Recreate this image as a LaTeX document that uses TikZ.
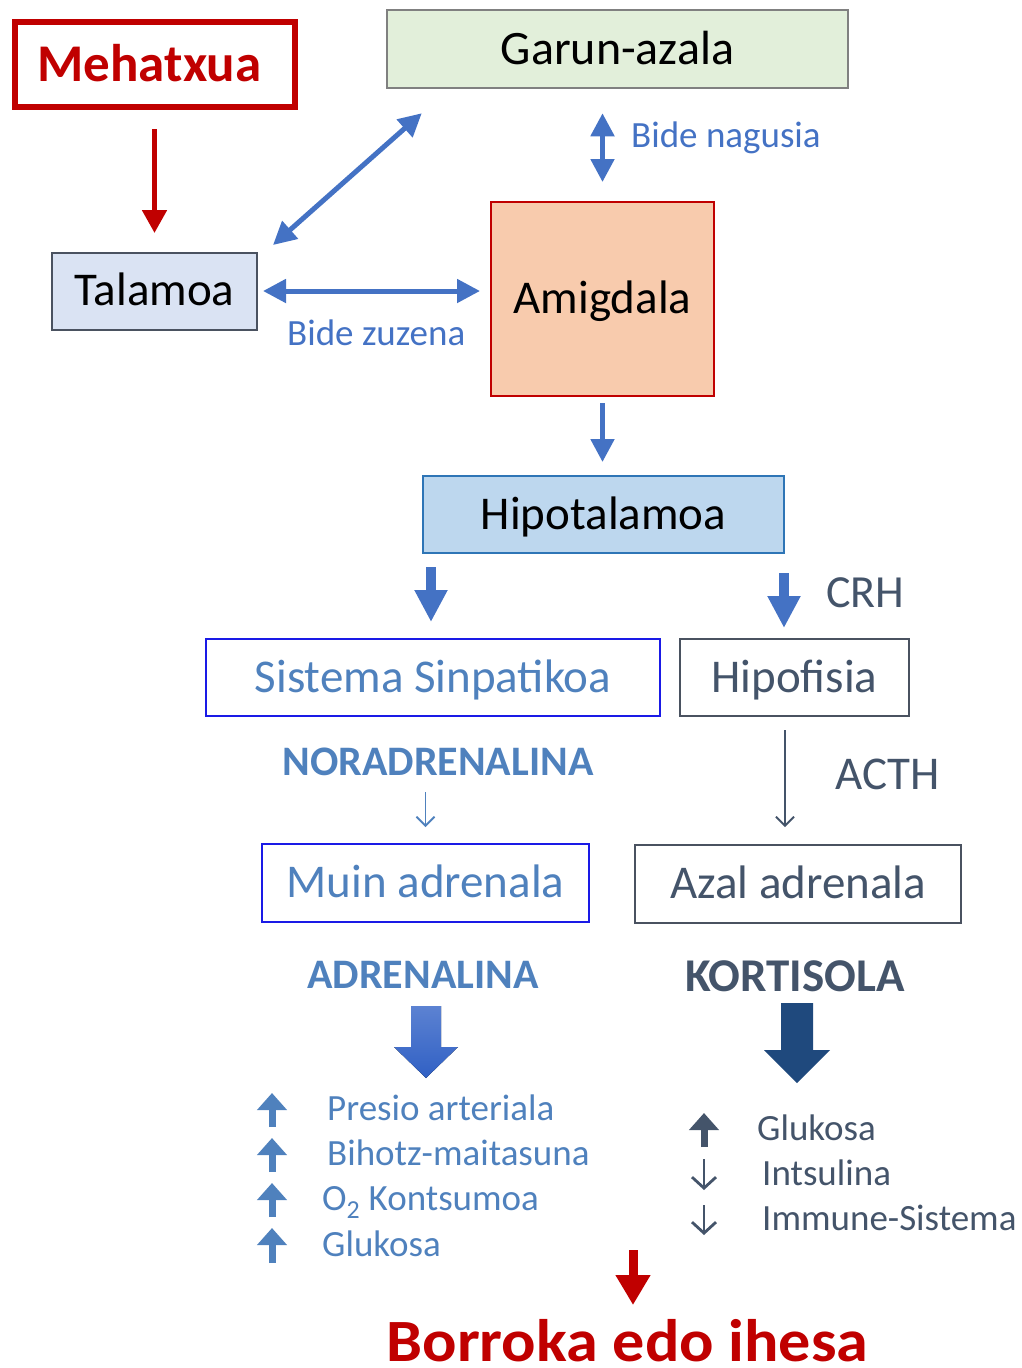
\documentclass[tikz,border=0pt]{standalone}
\usepackage{fontspec}
\setmainfont{Carlito}
\usetikzlibrary{arrows.meta,calc}
\newcommand\fsz[1]{\fontsize{#1pt}{#1pt}\selectfont}
\definecolor{cred}{HTML}{C00000}
\definecolor{cblue}{HTML}{4472C4}
\definecolor{steel}{HTML}{4F81BD}
\definecolor{slate}{HTML}{44546A}
\definecolor{kort}{HTML}{1F497D}
\definecolor{garfill}{HTML}{E2EFDA}
\definecolor{garline}{HTML}{808080}
\definecolor{talfill}{HTML}{DAE3F3}
\definecolor{talline}{HTML}{4A5260}
\definecolor{amfill}{HTML}{F8CBAD}
\definecolor{hipfill}{HTML}{BDD7EE}
\definecolor{hipline}{HTML}{2E75B6}
\definecolor{sisline}{HTML}{1A1AE6}
\definecolor{adrtop}{HTML}{5C82D2}
\definecolor{adrbot}{HTML}{3060C4}
\begin{document}
\begin{tikzpicture}[x=1pt,y=-1pt,
  box/.style={draw, inner sep=0pt, text height=29.7pt, text depth=0pt, font=\fsz{47}},
  lbl/.style={inner sep=0pt, anchor=base west, font=\fsz{37}},
  midarrow/.style={draw=cblue, line width=5pt, {Triangle[width=23pt,length=23pt]}-{Triangle[width=23pt,length=23pt]}},
  onearrow/.style={draw=cblue, line width=5pt, -{Triangle[width=23pt,length=23pt]}},
  fatarrow/.style={draw=cblue, line width=10pt, -{Triangle[width=31pt,length=32pt]}},
  thinarrow/.style={line width=1.8pt, -{Straight Barb[length=9pt,width=18pt]}},
  uparr/.style={line width=7pt, -{Triangle[width=29pt,length=17pt]}},
  downthin/.style={draw=slate, line width=2.8pt, -{Straight Barb[length=11pt,width=24pt]}}
]
\useasboundingbox (0,0) rectangle (1022,1368);

% boxes
\node[box, draw=cred, line width=6pt, minimum width=280pt, minimum height=85pt, text=cred, font=\fsz{53}\bfseries, text height=33.5pt] (meh) at (154.5,64.5) {Mehatxua\hspace*{10pt}};
\node[box, draw=garline, fill=garfill, line width=2.5pt, minimum width=461pt, minimum height=78pt, font=\fsz{48}, text height=30.3pt] (gar) at (617.5,49) {Garun-azala};
\node[box, draw=talline, fill=talfill, line width=2pt, minimum width=205pt, minimum height=77pt] (tal) at (154.5,291) {Talamoa};
\node[box, draw=cred, fill=amfill, line width=2pt, minimum width=223pt, minimum height=194pt] (amig) at (602.5,298.5) {Amigdala};
\node[box, draw=hipline, fill=hipfill, line width=2pt, minimum width=361pt, minimum height=77pt] (hipo) at (603.5,514.5) {Hipotalamoa};
\node[box, draw=sisline, line width=2pt, text=steel, minimum width=454pt, minimum height=77pt] (sis) at (433,677.5) {Sistema Sinpatikoa};
\node[box, draw=talline, line width=2pt, text=slate, minimum width=229pt, minimum height=77pt] (hpf) at (794.5,677.5) {Hipofisia};
\node[box, draw=sisline, line width=2pt, text=steel, minimum width=327pt, minimum height=78pt] (muin) at (425.5,883) {Muin adrenala};
\node[box, draw=talline, line width=2pt, text=slate, minimum width=326pt, minimum height=78pt] (azal) at (798,884) {Azal adrenala};

% labels
\node[lbl, text=cblue] (bn) at (631,147) {Bide nagusia};
\node[lbl, text=cblue] (bz) at (287,345) {Bide zuzena};
\node[lbl, text=slate, font=\fsz{46}] (crh) at (826,607) {CRH};
\node[lbl, text=slate, font=\fsz{47}] (acth) at (835,789) {ACTH};
\node[inner sep=0pt, anchor=base, text=steel, font=\fsz{42}\bfseries] (nora) at (438,775) {NORADRENALINA};
\node[inner sep=0pt, anchor=base, text=steel, font=\fsz{42}\bfseries] (adr) at (423,988) {ADRENALINA};
\node[inner sep=0pt, anchor=base, text=slate, font=\fsz{47}\bfseries] (kort) at (795,991) {KORTISOLA};
\node[inner sep=0pt, anchor=base, text=cred, font=\fsz{60}\bfseries, xscale=1.07] (bor) at (627.5,1361) {Borroka edo ihesa};

% lists
\node[lbl, text=steel] (l1) at (327,1120) {Presio arteriala};
\node[lbl, text=steel] (l2) at (327,1165) {Bihotz-maitasuna};
\node[lbl, text=steel] (l3) at (322,1210) {O\textsubscript{2} Kontsumoa};
\node[lbl, text=steel] (l4) at (322,1256) {Glukosa};
\node[lbl, text=slate] (r1) at (757,1140) {Glukosa};
\node[lbl, text=slate] (r2) at (762,1185) {Intsulina};
\node[lbl, text=slate] (r3) at (762,1230) {Immune-Sistema};

% connectors
\draw[draw=cred, line width=5pt, -{Triangle[width=24pt,length=23pt]}, shorten <=19pt, shorten >=18.5pt] (meh.south) -- (tal.north);
\draw[midarrow] ($(tal.north east)+(15,-6.5)$) -- ($(gar.south west)+(36,24)$);
\draw[midarrow, shorten <=5pt, shorten >=10pt] (tal.east) -- (tal.east -| amig.west);
\draw[midarrow, shorten <=24pt, shorten >=18.5pt] (amig.north |- gar.south) -- (amig.north);
\draw[onearrow, shorten <=6.5pt, shorten >=13pt] (amig.south) -- (amig.south |- hipo.north);
\draw[fatarrow, shorten <=13pt, shorten >=16pt] ($(sis.north |- hipo.south)+(-2,0)$) -- ($(sis.north)+(-2,0)$);
\draw[fatarrow, shorten <=19pt, shorten >=10pt] ($(hpf.north |- hipo.south)+(-10.5,0)$) -- ($(hpf.north)+(-10.5,0)$);
\draw[thinarrow, draw=steel, shorten >=16pt] ($(muin.north |- nora.base)+(0,17)$) -- (muin.north);
\draw[thinarrow, draw=slate] ($(hpf.south)+(-9.5,13)$) -- ($(azal.north)+(-13,-17)$);
\draw[draw=cred, line width=9pt, -{Triangle[width=33pt,length=30pt]}] ($(bor.base)+(5.5,-111)$) -- ($(bor.base)+(5.5,-56)$);

% block arrows
\begin{scope}[shift={(adr.base)}]
\fill[top color=adrtop, bottom color=adrbot] (-12,18) -- (18,18) -- (18,59) -- (35,59) -- (3,90) -- (-29,59) -- (-12,59) -- cycle;
\end{scope}
\begin{scope}[shift={(kort.base)}]
\fill[kort] (-14,12) -- (18,12) -- (18,59) -- (35,59) -- (2,92) -- (-31,59) -- (-14,59) -- cycle;
\end{scope}

% list arrows
\draw[uparr, draw=steel] (272,1127) -- (272,1093);
\draw[uparr, draw=steel] (272,1172) -- (272,1138);
\draw[uparr, draw=steel] (272,1217) -- (272,1183);
\draw[uparr, draw=steel] (272,1263) -- (272,1228);
\draw[uparr, draw=slate] (704,1147) -- (704,1113);
\draw[downthin] (704,1159) -- (704,1190);
\draw[downthin] (704,1205) -- (704,1235);
\end{tikzpicture}
\end{document}
